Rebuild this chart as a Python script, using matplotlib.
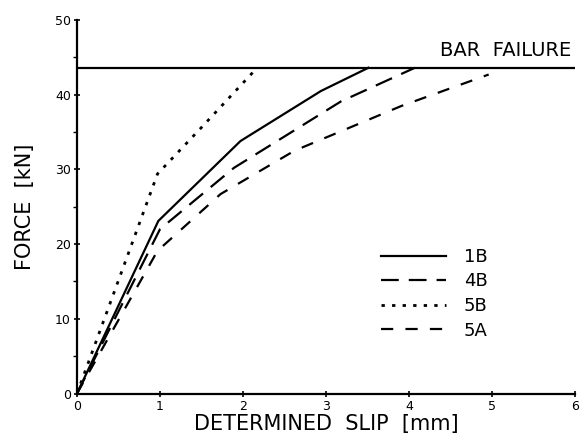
import matplotlib
matplotlib.use("Agg")
import matplotlib.pyplot as plt
from matplotlib.ticker import MultipleLocator

# Data
bar_failure = 43.6
bar_x = [0.0, 5.99]

x_1B = [0, 0.98, 1.97, 2.94, 3.51]
y_1B = [0, 23.1, 33.8, 40.5, 43.6]

x_4B = [0, 1.0, 1.89, 3.18, 4.07]
y_4B = [0, 22.0, 30.2, 39.1, 43.6]

x_5B = [0, 0.97, 1.49, 2.17]
y_5B = [0, 29.4, 35.5, 43.6]

x_5A = [0, 0.97, 1.73, 2.62, 3.91, 4.96]
y_5A = [0, 19.1, 26.7, 32.5, 38.5, 42.7]

plt.rcParams['font.family'] = ['DejaVu Sans']

fig = plt.figure(figsize=(5.84, 4.4), dpi=100)
ax = fig.add_axes([77/584, 1 - 393.5/440, (575-77)/584, (393.5-20)/440])

lw = 1.6
ax.plot(bar_x, [bar_failure, bar_failure], color='black', lw=lw)
ax.plot(x_1B, y_1B, color='black', lw=lw, label='1B')
ax.plot(x_4B, y_4B, color='black', lw=lw, linestyle=(0, (8, 4.5)), label='4B')
ax.plot(x_5B, y_5B, color='black', lw=2.0, linestyle=(0, (1.2, 2.6)), label='5B')
ax.plot(x_5A, y_5A, color='black', lw=lw, linestyle=(0, (5.5, 5.5)), label='5A')

ax.text(5.95, bar_failure + 1.0, 'BAR  FAILURE', ha='right', va='bottom', fontsize=14)

ax.set_xlim(0, 6)
ax.set_ylim(0, 50)
ax.xaxis.set_major_locator(MultipleLocator(1))
ax.yaxis.set_major_locator(MultipleLocator(10))
ax.yaxis.set_minor_locator(MultipleLocator(5))
for s in ['top', 'right']:
    ax.spines[s].set_visible(False)
for s in ['left', 'bottom']:
    ax.spines[s].set_linewidth(1.6)
ax.tick_params(axis='both', which='major', direction='inout', length=5, width=1.2, labelsize=9, pad=2)
ax.tick_params(axis='y', which='minor', direction='out', length=3, width=1.0)

ax.set_xlabel('DETERMINED  SLIP  [mm]', fontsize=15, labelpad=1)
ax.set_ylabel('FORCE  [kN]', fontsize=15, labelpad=14)

leg = ax.legend(loc='upper left', bbox_to_anchor=(381/584, 1 - 248/440),
                bbox_transform=fig.transFigure, frameon=False, fontsize=13,
                handlelength=3.6, handletextpad=1.0, labelspacing=0.36,
                borderpad=0, borderaxespad=0)

fig.savefig('out.png', dpi=100)
